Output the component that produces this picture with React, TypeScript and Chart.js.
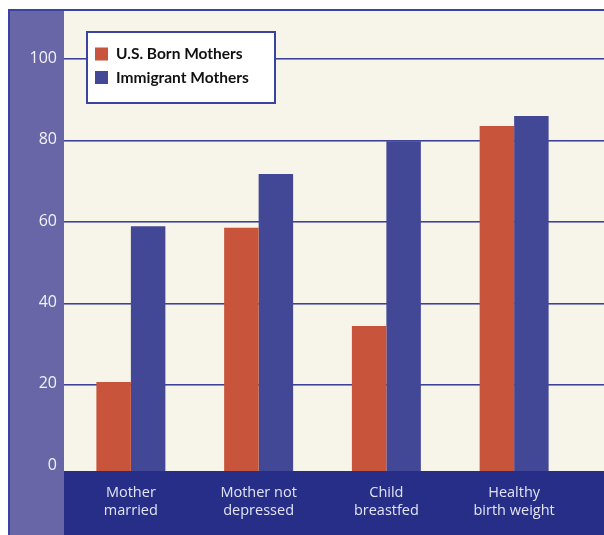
import { useEffect, useRef } from 'react';
import { Chart, registerables } from 'chart.js';

Chart.register(...registerables);

const categories: string[][] = [
  ['Mother', 'married'],
  ['Mother not', 'depressed'],
  ['Child', 'breastfed'],
  ['Healthy', 'birth weight'],
];
const usBornMothers = [20.7, 58.6, 34.5, 83.6];
const immigrantMothers = [59.0, 71.8, 79.9, 86.1];
const yTickValues = [0, 20, 40, 60, 80, 100];
const seriesLabels = ['U.S. Born Mothers', 'Immigrant Mothers'];

const Y_MIN = -1.155;
const Y_MAX = 111.88;

const COLORS = {
  frame: '#3a44a0',
  purple: '#6966a8',
  cream: '#f7f5e9',
  navy: '#262e87',
  red: '#c8553b',
  blue: '#424896',
  grid: '#3d4296',
  gridLight: '#8c8fbe',
};

export default function App() {
  const ref = useRef<HTMLCanvasElement>(null);

  useEffect(() => {
    const canvas = ref.current;
    if (!canvas) return;

    const decor = {
      id: 'decor',
      beforeDraw(chart: any) {
        const ctx = chart.ctx as CanvasRenderingContext2D;
        const ys = chart.scales.y;
        const W = chart.width;
        const H = chart.height;
        ctx.save();
        ctx.fillStyle = COLORS.cream;
        ctx.fillRect(64, 11, W - 64, 471 - 11);
        ctx.fillStyle = COLORS.purple;
        ctx.fillRect(10, 11, 54, H - 11);
        ctx.fillStyle = COLORS.navy;
        ctx.fillRect(64, 471, W - 64, H - 471);
        ctx.strokeStyle = COLORS.frame;
        ctx.lineWidth = 2;
        ctx.beginPath();
        ctx.moveTo(9, H);
        ctx.lineTo(9, 10);
        ctx.lineTo(W, 10);
        ctx.stroke();
        for (const v of yTickValues) {
          if (v === 0) continue;
          const y = Math.round(ys.getPixelForValue(v));
          ctx.fillStyle = COLORS.grid;
          ctx.fillRect(64, y - 1, W - 64, 1);
          ctx.fillStyle = COLORS.gridLight;
          ctx.fillRect(64, y, W - 64, 1);
        }
        ctx.fillStyle = '#f2f2f8';
        ctx.font = '16px "Open Sans"';
        ctx.textAlign = 'right';
        ctx.textBaseline = 'middle';
        for (const v of yTickValues) {
          const y = ys.getPixelForValue(v);
          ctx.fillText(String(v), 57, y - 1);
        }
        ctx.restore();
      },
      afterDraw(chart: any) {
        const ctx = chart.ctx as CanvasRenderingContext2D;
        const xs = chart.scales.x;
        ctx.save();
        ctx.fillStyle = '#e2e4f4';
        ctx.font = '14.5px "Open Sans"';
        ctx.textAlign = 'center';
        ctx.textBaseline = 'middle';
        categories.forEach((lines, i) => {
          const x = xs.getPixelForValue(i);
          lines.forEach((t, j) => ctx.fillText(t, x, 493 + j * 18));
        });
        ctx.fillStyle = '#ffffff';
        ctx.fillRect(87, 32, 188, 71);
        ctx.strokeStyle = COLORS.frame;
        ctx.lineWidth = 2;
        ctx.strokeRect(87, 32, 188, 71);
        const ds = chart.data.datasets;
        ctx.textAlign = 'left';
        ctx.textBaseline = 'middle';
        ctx.font = 'bold 15.5px Lato';
        ds.forEach((d: any, i: number) => {
          const y = 54 + i * 23.5;
          ctx.fillStyle = d.backgroundColor;
          ctx.fillRect(95, y - 6.5, 13, 13);
          ctx.fillStyle = '#111111';
          ctx.fillText(d.label, 116, y);
        });
        ctx.restore();
      },
    };

    const chart = new Chart(canvas, {
      type: 'bar',
      data: {
        labels: categories.map((c) => c.join(' ')),
        datasets: [
          { label: seriesLabels[0], data: usBornMothers, backgroundColor: COLORS.red, base: Y_MIN } as any,
          { label: seriesLabels[1], data: immigrantMothers, backgroundColor: COLORS.blue, base: Y_MIN } as any,
        ],
      },
      options: {
        responsive: false,
        animation: false,
        devicePixelRatio: 1,
        layout: { padding: { left: 67, right: 26, top: 11, bottom: 64 } },
        plugins: { legend: { display: false }, tooltip: { enabled: false } },
        scales: {
          x: { display: false },
          y: { display: false, min: Y_MIN, max: Y_MAX },
        },
        datasets: { bar: { categoryPercentage: 0.54, barPercentage: 1 } },
      } as any,
      plugins: [decor],
    });
    return () => chart.destroy();
  }, []);

  return (
    <div style={{ position: 'absolute', left: 0, top: 0, width: 604, height: 535 }}>
      <canvas ref={ref} width={604} height={535} style={{ display: 'block' }} />
    </div>
  );
}
